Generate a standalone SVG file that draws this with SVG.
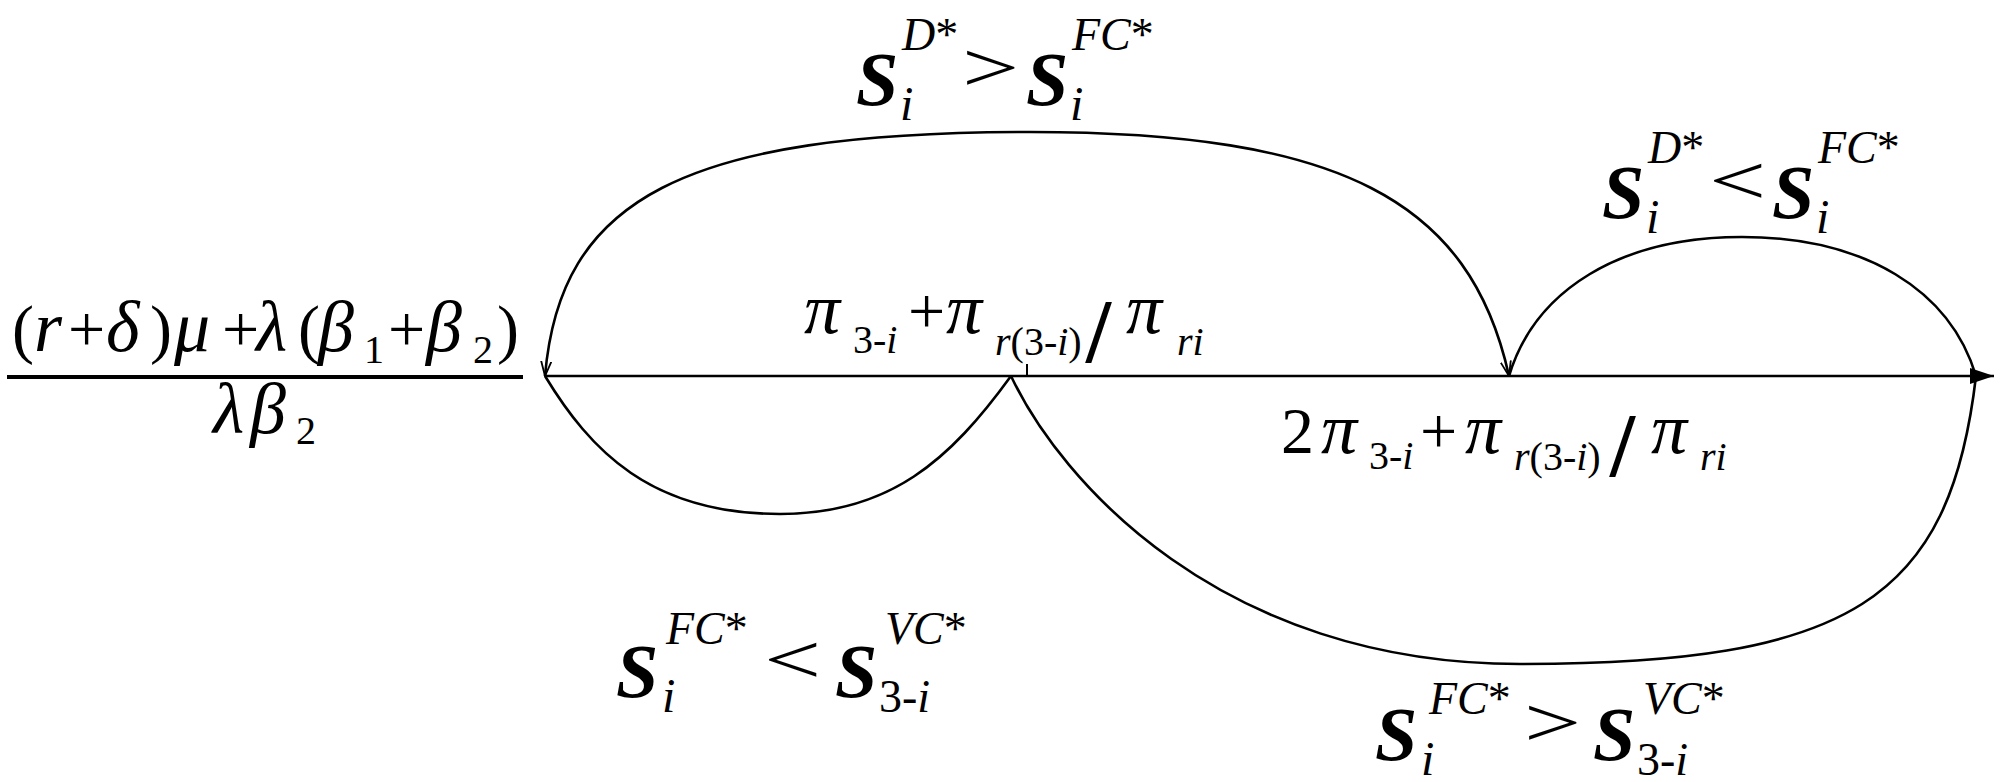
<svg xmlns="http://www.w3.org/2000/svg" width="2000" height="782" viewBox="0 0 2000 782" font-family="'Liberation Serif', 'Times New Roman', 'DejaVu Serif', serif">
<defs>
<style>
text{font-family:"Liberation Serif","Times New Roman","DejaVu Serif",serif;fill:#000}
.i{font-style:italic}
.g{font-style:italic;font-size:72px}
.bi{font-style:italic;font-weight:bold;font-size:76px}
.m{font-size:66px}
.s{font-size:40px}
.sup{font-size:46px}
.sub{font-size:48px;font-style:italic}
.rel{font-size:70px}
.sl{font-size:90px;font-weight:bold}
.ln{fill:none;stroke:#000;stroke-width:2.6}
</style>
<marker id="tip" markerUnits="userSpaceOnUse" markerWidth="16" markerHeight="12" refX="13" refY="5" orient="auto-start-reverse" viewBox="0 0 14 10"><path d="M0,0.5 L13,5 L0,9.5" fill="none" stroke="#000" stroke-width="1.6"/></marker>
<marker id="head" markerUnits="userSpaceOnUse" markerWidth="26" markerHeight="18" refX="24" refY="9" orient="auto" viewBox="0 0 26 18"><path d="M0,1 L24,9 L0,17 Z" fill="#000"/></marker>
</defs>
<rect width="2000" height="782" fill="#fff"/>

<g id="connectors">
<line class="ln" x1="545" y1="376" x2="1994" y2="376" marker-end="url(#head)"/>
<line x1="7" y1="377" x2="523" y2="377" stroke="#000" stroke-width="4"/>
<line x1="1027" y1="364" x2="1027" y2="376" stroke="#000" stroke-width="2"/>
<path class="ln" d="M545,376 C560,200 680,132 1030,132 C1340,132 1470,200 1509,376" marker-start="url(#tip)" marker-end="url(#tip)"/>
<path class="ln" d="M1509,376 C1535,290 1620,237 1742,237 C1865,237 1950,290 1976,376"/>
<path class="ln" d="M545,376 C590,450 650,514 780,514 C890,514 950,460 1011,376"/>
<path class="ln" d="M1011,376 C1060,480 1220,664 1520,664 C1850,664 1950,600 1976,376"/>
</g>

<g id="node-fraction">
<text class="m" y="351"><tspan x="12">(</tspan><tspan x="34" class="g">r</tspan><tspan x="68">+</tspan><tspan x="106" class="g">δ</tspan><tspan x="150">)</tspan><tspan x="174" class="g">μ</tspan><tspan x="222">+</tspan><tspan x="256" class="g">λ</tspan><tspan x="298">(</tspan><tspan x="318" class="g">β</tspan><tspan x="364" y="363" class="s">1</tspan><tspan x="388" y="351">+</tspan><tspan x="426" class="g">β</tspan><tspan x="473" y="363" class="s">2</tspan><tspan x="497" y="351">)</tspan></text>
<text class="m" y="433"><tspan x="213" class="g">λ</tspan><tspan x="250" class="g">β</tspan><tspan x="296" y="444" class="s">2</tspan></text>
</g>

<g id="node-mid-top">
<text class="m" y="333"><tspan x="804" class="g">π</tspan><tspan x="853" y="353" class="s">3-</tspan><tspan class="s i">i</tspan><tspan x="908" y="333">+</tspan><tspan x="946" class="g">π</tspan><tspan x="995" y="355" class="s i">r</tspan><tspan class="s">(3-</tspan><tspan class="s i">i</tspan><tspan class="s">)</tspan><tspan x="1086" y="362" class="sl">/</tspan><tspan x="1126" y="333" class="g">π</tspan><tspan x="1177" y="355" class="s i">ri</tspan></text>
</g>

<g id="node-mid-bottom">
<text class="m" y="453"><tspan x="1281">2</tspan><tspan x="1321" class="g">π</tspan><tspan x="1369" y="469" class="s">3-</tspan><tspan class="s i">i</tspan><tspan x="1420" y="453">+</tspan><tspan x="1465" class="g">π</tspan><tspan x="1514" y="470" class="s i">r</tspan><tspan class="s">(3-</tspan><tspan class="s i">i</tspan><tspan class="s">)</tspan><tspan x="1610" y="476" class="sl">/</tspan><tspan x="1651" y="453" class="g">π</tspan><tspan x="1700" y="470" class="s i">ri</tspan></text>
</g>

<g id="node-label-top">
<text class="bi" x="856" y="105">S</text>
<text class="sup" x="902" y="50"><tspan class="i">D</tspan>*</text>
<text class="sub" x="900" y="120">i</text>
<text class="rel" transform="translate(962,91) scale(1.45,1)">&gt;</text>
<text class="bi" x="1026" y="105">S</text>
<text class="sup" x="1072" y="50"><tspan class="i">FC</tspan>*</text>
<text class="sub" x="1070" y="120">i</text>
</g>

<g id="node-label-right">
<text class="bi" x="1602" y="218">S</text>
<text class="sup" x="1648" y="163"><tspan class="i">D</tspan>*</text>
<text class="sub" x="1646" y="233">i</text>
<text class="rel" transform="translate(1709,204) scale(1.45,1)">&lt;</text>
<text class="bi" x="1772" y="218">S</text>
<text class="sup" x="1818" y="163"><tspan class="i">FC</tspan>*</text>
<text class="sub" x="1816" y="233">i</text>
</g>

<g id="node-label-bottom-left">
<text class="bi" x="616" y="697">S</text>
<text class="sup" x="666" y="644"><tspan class="i">FC</tspan>*</text>
<text class="sub" x="662" y="712">i</text>
<text class="rel" transform="translate(764,683) scale(1.45,1)">&lt;</text>
<text class="bi" x="835" y="697">S</text>
<text class="sup" x="885" y="644"><tspan class="i">VC</tspan>*</text>
<text class="sup" x="879" y="712">3-<tspan class="i">i</tspan></text>
</g>

<g id="node-label-bottom-right">
<text class="bi" x="1375" y="760">S</text>
<text class="sup" x="1429" y="714"><tspan class="i">FC</tspan>*</text>
<text class="sub" x="1421" y="775">i</text>
<text class="rel" transform="translate(1524,746) scale(1.45,1)">&gt;</text>
<text class="bi" x="1593" y="760">S</text>
<text class="sup" x="1643" y="714"><tspan class="i">VC</tspan>*</text>
<text class="sup" x="1637" y="775">3-<tspan class="i">i</tspan></text>
</g>
</svg>
